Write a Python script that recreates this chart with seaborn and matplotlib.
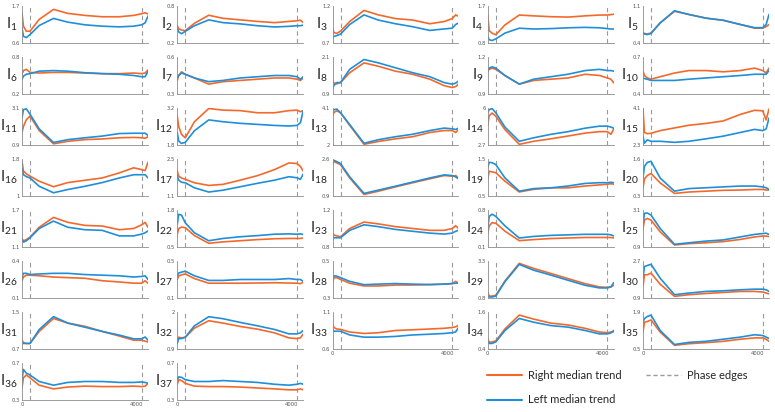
import numpy as np
import pandas as pd
import matplotlib
matplotlib.use("Agg")
import matplotlib.pyplot as plt
import seaborn as sns

# sample steps shared by every panel
STEPS = [0, 50, 150, 280, 600, 1100, 1600, 2200, 2800, 3400, 3900, 4180, 4300, 4400]
PHASE_EDGES = [280, 4180]

# y-axis limits per panel (I1..I37)
Y_LO = [0.6, 0.2, 0.7, 0.8, 0.4, 0.2, 0.3, 0.9, 0.9, 0.4,
        0.9, 1.8, 2, 2.7, 2.3, 1, 1.1, 0.9, 0.5, 0.3,
        1.1, 0.5, 0.8, 0.1, 0.9, 0.1, 0.1, 0.3, 0.8, 0.9,
        0.7, 0.9, 0.6, 0.4, 0.5, 0.3, 0.3]
Y_HI = [1.7, 0.8, 1.2, 1.7, 1.1, 0.8, 0.6, 2.1, 1.2, 0.7,
        3.1, 3.2, 4.1, 6, 4.1, 1.8, 2.5, 2.6, 1.5, 1.6,
        1.7, 1.8, 1.2, 0.8, 3.1, 0.4, 0.5, 0.5, 3.3, 2.7,
        1.5, 2, 1.1, 1.6, 1.9, 0.7, 0.7]

I1_RIGHT = [1.50, 1.10, 0.95, 0.95, 1.30, 1.60, 1.48, 1.42, 1.38, 1.38, 1.42, 1.47, 1.50, 1.46]
I1_LEFT = [1.05, 0.80, 0.76, 0.85, 1.12, 1.33, 1.22, 1.14, 1.10, 1.08, 1.10, 1.14, 1.20, 1.40]
I2_RIGHT = [0.48, 0.43, 0.41, 0.40, 0.52, 0.65, 0.60, 0.575, 0.55, 0.53, 0.55, 0.56, 0.57, 0.53]
I2_LEFT = [0.44, 0.38, 0.35, 0.39, 0.48, 0.575, 0.53, 0.51, 0.48, 0.46, 0.47, 0.48, 0.48, 0.49]
I3_RIGHT = [0.90, 0.84, 0.83, 0.86, 0.99, 1.14, 1.08, 1.03, 1.01, 0.96, 0.99, 1.03, 1.08, 1.06]
I3_LEFT = [0.78, 0.79, 0.80, 0.82, 0.95, 1.08, 1.01, 0.96, 0.92, 0.87, 0.89, 0.90, 0.95, 0.97]
I4_RIGHT = [1.49, 1.10, 1.04, 1.00, 1.24, 1.48, 1.46, 1.44, 1.43, 1.46, 1.48, 1.48, 1.49, 1.50]
I4_LEFT = [0.96, 0.88, 0.86, 0.90, 1.04, 1.16, 1.14, 1.15, 1.17, 1.18, 1.17, 1.15, 1.14, 1.14]
I5_RIGHT = [0.59, 0.58, 0.57, 0.59, 0.78, 1.00, 0.94, 0.87, 0.83, 0.75, 0.68, 0.68, 0.71, 0.75]
I5_LEFT = [0.59, 0.57, 0.56, 0.58, 0.78, 1.01, 0.94, 0.87, 0.83, 0.75, 0.69, 0.69, 0.75, 0.94]
I6_RIGHT = [0.52, 0.58, 0.60, 0.55, 0.54, 0.55, 0.55, 0.54, 0.53, 0.53, 0.54, 0.53, 0.54, 0.59]
I6_LEFT = [0.44, 0.49, 0.52, 0.53, 0.57, 0.58, 0.57, 0.545, 0.53, 0.52, 0.50, 0.48, 0.48, 0.57]
I7_RIGHT = [0.41, 0.45, 0.48, 0.46, 0.43, 0.38, 0.40, 0.41, 0.42, 0.43, 0.43, 0.42, 0.41, 0.43]
I7_LEFT = [0.43, 0.45, 0.47, 0.46, 0.43, 0.40, 0.41, 0.43, 0.44, 0.45, 0.45, 0.44, 0.42, 0.44]
I8_RIGHT = [1.32, 1.26, 1.23, 1.27, 1.59, 1.91, 1.80, 1.64, 1.54, 1.38, 1.17, 1.11, 1.14, 1.22]
I8_LEFT = [1.06, 1.18, 1.27, 1.27, 1.70, 2.02, 1.91, 1.75, 1.59, 1.46, 1.27, 1.22, 1.25, 1.32]
I9_RIGHT = [1.086, 1.10, 1.11, 1.10, 1.05, 0.98, 1.01, 1.02, 1.03, 1.06, 1.05, 1.03, 1.02, 0.99]
I9_LEFT = [1.09, 1.11, 1.12, 1.11, 1.05, 0.98, 1.02, 1.04, 1.06, 1.09, 1.10, 1.09, 1.09, 1.085]
I10_RIGHT = [0.586, 0.55, 0.53, 0.52, 0.54, 0.57, 0.59, 0.59, 0.58, 0.59, 0.61, 0.59, 0.57, 0.61]
I10_LEFT = [0.53, 0.525, 0.52, 0.51, 0.51, 0.51, 0.52, 0.53, 0.54, 0.55, 0.56, 0.56, 0.56, 0.59]
I11_RIGHT = [1.65, 2.0, 2.4, 2.62, 1.76, 0.97, 1.12, 1.22, 1.26, 1.33, 1.35, 1.33, 1.30, 1.40]
I11_LEFT = [2.5, 3.0, 3.05, 2.73, 1.86, 1.05, 1.22, 1.33, 1.43, 1.58, 1.60, 1.60, 1.60, 1.47]
I12_RIGHT = [2.89, 2.5, 2.2, 2.07, 2.68, 3.18, 3.12, 3.10, 3.02, 3.02, 3.10, 3.12, 3.06, 3.10]
I12_LEFT = [2.28, 1.95, 1.86, 1.90, 2.34, 2.75, 2.68, 2.62, 2.58, 2.54, 2.52, 2.54, 2.64, 3.10]
I13_RIGHT = [3.63, 3.85, 3.94, 3.83, 3.12, 2.04, 2.20, 2.35, 2.47, 2.71, 2.82, 2.82, 2.71, 2.88]
I13_LEFT = [3.94, 4.0, 4.04, 3.83, 3.16, 2.10, 2.30, 2.47, 2.61, 2.82, 2.96, 2.92, 2.88, 2.96]
I14_RIGHT = [4.47, 5.3, 5.55, 5.27, 4.07, 2.76, 3.03, 3.25, 3.50, 3.76, 3.89, 3.89, 3.65, 4.14]
I14_LEFT = [5.58, 5.85, 5.95, 5.58, 4.30, 3.03, 3.34, 3.65, 3.89, 4.20, 4.38, 4.38, 4.30, 4.20]
I15_RIGHT = [4.05, 2.91, 2.85, 2.87, 3.00, 3.13, 3.26, 3.35, 3.47, 3.79, 3.99, 3.96, 3.52, 4.05]
I15_LEFT = [2.73, 2.39, 2.55, 2.48, 2.48, 2.43, 2.48, 2.60, 2.73, 2.91, 3.06, 3.00, 3.08, 3.61]
I16_RIGHT = [1.75, 1.54, 1.48, 1.43, 1.32, 1.20, 1.29, 1.34, 1.39, 1.50, 1.61, 1.57, 1.55, 1.73]
I16_LEFT = [1.61, 1.46, 1.42, 1.39, 1.21, 1.07, 1.14, 1.21, 1.29, 1.39, 1.46, 1.46, 1.46, 1.39]
I17_RIGHT = [2.04, 1.85, 1.78, 1.73, 1.60, 1.50, 1.54, 1.70, 1.87, 2.10, 2.35, 2.33, 2.22, 2.04]
I17_LEFT = [1.86, 1.70, 1.62, 1.60, 1.41, 1.25, 1.32, 1.45, 1.58, 1.70, 1.83, 1.79, 1.73, 1.93]
I18_RIGHT = [2.34, 2.49, 2.42, 2.34, 1.73, 0.97, 1.12, 1.32, 1.51, 1.69, 1.84, 1.81, 1.84, 1.73]
I18_LEFT = [2.45, 2.54, 2.48, 2.39, 1.78, 1.02, 1.17, 1.35, 1.54, 1.73, 1.87, 1.84, 1.78, 1.69]
I19_RIGHT = [0.95, 1.17, 1.15, 1.13, 0.90, 0.61, 0.68, 0.72, 0.72, 0.77, 0.80, 0.82, 0.83, 0.82]
I19_LEFT = [1.26, 1.41, 1.40, 1.35, 0.99, 0.63, 0.70, 0.72, 0.77, 0.84, 0.86, 0.86, 0.87, 0.86]
I20_RIGHT = [0.59, 0.90, 1.02, 1.09, 0.76, 0.39, 0.44, 0.47, 0.50, 0.51, 0.53, 0.53, 0.51, 0.51]
I20_LEFT = [0.93, 1.34, 1.48, 1.52, 0.93, 0.47, 0.56, 0.59, 0.62, 0.65, 0.65, 0.62, 0.59, 0.53]
I21_RIGHT = [1.22, 1.20, 1.22, 1.26, 1.42, 1.58, 1.50, 1.45, 1.44, 1.38, 1.40, 1.46, 1.50, 1.42]
I21_LEFT = [1.24, 1.18, 1.20, 1.25, 1.40, 1.52, 1.42, 1.38, 1.37, 1.28, 1.28, 1.31, 1.33, 1.36]
I22_RIGHT = [0.95, 1.15, 1.20, 1.18, 0.90, 0.63, 0.68, 0.72, 0.76, 0.79, 0.80, 0.80, 0.80, 0.82]
I22_LEFT = [1.30, 1.65, 1.62, 1.35, 1.00, 0.72, 0.80, 0.86, 0.90, 0.95, 0.96, 0.95, 0.96, 0.94]
I23_RIGHT = [0.95, 0.93, 0.92, 0.91, 1.00, 1.07, 1.05, 1.02, 1.00, 0.98, 0.98, 1.00, 1.03, 1.00]
I23_LEFT = [0.92, 0.90, 0.90, 0.90, 0.98, 1.04, 1.02, 0.99, 0.97, 0.95, 0.94, 0.95, 0.97, 0.98]
I24_RIGHT = [0.35, 0.50, 0.56, 0.55, 0.40, 0.22, 0.24, 0.26, 0.27, 0.28, 0.28, 0.28, 0.28, 0.27]
I24_LEFT = [0.45, 0.68, 0.72, 0.68, 0.50, 0.27, 0.30, 0.32, 0.33, 0.34, 0.34, 0.34, 0.33, 0.31]
I25_RIGHT = [2.0, 2.5, 2.6, 2.5, 1.8, 1.02, 1.10, 1.15, 1.22, 1.35, 1.50, 1.55, 1.55, 1.52]
I25_LEFT = [2.2, 2.9, 2.92, 2.8, 2.0, 1.06, 1.15, 1.25, 1.32, 1.50, 1.65, 1.70, 1.72, 1.65]
I26_RIGHT = [0.24, 0.27, 0.285, 0.285, 0.28, 0.27, 0.265, 0.26, 0.24, 0.23, 0.22, 0.22, 0.24, 0.22]
I26_LEFT = [0.27, 0.30, 0.30, 0.29, 0.295, 0.30, 0.30, 0.29, 0.285, 0.28, 0.27, 0.275, 0.28, 0.25]
I27_RIGHT = [0.30, 0.34, 0.35, 0.36, 0.31, 0.26, 0.26, 0.26, 0.262, 0.265, 0.262, 0.26, 0.255, 0.27]
I27_LEFT = [0.34, 0.37, 0.38, 0.39, 0.34, 0.29, 0.29, 0.30, 0.30, 0.30, 0.31, 0.30, 0.30, 0.28]
I28_RIGHT = [0.38, 0.41, 0.41, 0.40, 0.38, 0.365, 0.365, 0.37, 0.37, 0.372, 0.375, 0.378, 0.39, 0.38]
I28_LEFT = [0.40, 0.42, 0.418, 0.41, 0.39, 0.372, 0.375, 0.378, 0.375, 0.373, 0.375, 0.378, 0.38, 0.38]
I29_RIGHT = [1.20, 0.93, 0.93, 0.98, 1.95, 3.14, 2.80, 2.46, 2.11, 1.77, 1.55, 1.52, 1.55, 1.66]
I29_LEFT = [0.98, 0.87, 0.87, 0.93, 1.90, 3.07, 2.68, 2.35, 2.00, 1.66, 1.48, 1.48, 1.55, 1.84]
I30_RIGHT = [1.46, 2.03, 2.03, 2.11, 1.57, 0.98, 1.06, 1.12, 1.17, 1.22, 1.22, 1.19, 1.14, 1.10]
I30_LEFT = [1.86, 2.43, 2.48, 2.54, 1.86, 1.06, 1.14, 1.22, 1.25, 1.30, 1.33, 1.33, 1.30, 1.22]
I31_RIGHT = [0.89, 0.84, 0.82, 0.82, 1.08, 1.36, 1.26, 1.19, 1.08, 0.98, 0.89, 0.89, 0.87, 0.85]
I31_LEFT = [0.82, 0.82, 0.82, 0.82, 1.12, 1.40, 1.26, 1.17, 1.08, 1.00, 0.92, 0.92, 0.96, 0.89]
I32_RIGHT = [1.16, 1.25, 1.23, 1.25, 1.52, 1.74, 1.67, 1.57, 1.49, 1.38, 1.23, 1.21, 1.23, 1.35]
I32_LEFT = [1.06, 1.21, 1.21, 1.25, 1.59, 1.86, 1.80, 1.69, 1.59, 1.48, 1.35, 1.35, 1.38, 1.45]
I33_RIGHT = [0.94, 0.89, 0.87, 0.865, 0.83, 0.81, 0.82, 0.85, 0.86, 0.87, 0.88, 0.89, 0.90, 0.92]
I33_LEFT = [0.87, 0.84, 0.84, 0.84, 0.79, 0.76, 0.76, 0.77, 0.79, 0.80, 0.81, 0.82, 0.83, 0.89]
I34_RIGHT = [0.74, 0.61, 0.63, 0.66, 1.05, 1.50, 1.37, 1.24, 1.18, 1.07, 0.95, 0.93, 0.95, 0.96]
I34_LEFT = [0.69, 0.58, 0.58, 0.63, 1.00, 1.39, 1.27, 1.16, 1.11, 1.00, 0.89, 0.89, 0.92, 1.00]
I35_RIGHT = [1.16, 1.51, 1.54, 1.60, 1.14, 0.64, 0.70, 0.74, 0.79, 0.87, 0.92, 0.92, 0.87, 0.79]
I35_LEFT = [1.51, 1.65, 1.73, 1.78, 1.20, 0.67, 0.75, 0.79, 0.87, 0.95, 1.04, 1.01, 0.95, 0.90]
I36_RIGHT = [0.43, 0.54, 0.57, 0.54, 0.46, 0.42, 0.44, 0.45, 0.445, 0.445, 0.45, 0.445, 0.45, 0.48]
I36_LEFT = [0.52, 0.63, 0.59, 0.57, 0.50, 0.46, 0.49, 0.50, 0.50, 0.49, 0.49, 0.495, 0.49, 0.48]
I37_RIGHT = [0.47, 0.52, 0.51, 0.48, 0.45, 0.445, 0.445, 0.44, 0.43, 0.42, 0.41, 0.41, 0.42, 0.41]
I37_LEFT = [0.52, 0.55, 0.545, 0.52, 0.50, 0.50, 0.51, 0.50, 0.49, 0.47, 0.46, 0.47, 0.48, 0.47]

RIGHT_COLOR = "#F4692B"
LEFT_COLOR = "#1F8FD9"
EDGE_COLOR = "#9A9A9A"
AXIS_COLOR = "#8C8C8C"

N_PANELS = 37
N_COLS = 5


def build_frame():
    g = globals()
    rows = []
    for k in range(1, N_PANELS + 1):
        for side, key in (("Right", f"I{k}_RIGHT"), ("Left", f"I{k}_LEFT")):
            for step, val in zip(STEPS, g[key]):
                rows.append({"panel": k, "side": side, "step": step, "value": val})
    return pd.DataFrame(rows)


def main():
    sns.set_theme(style="white")
    plt.rcParams["font.family"] = ["DejaVu Sans"]
    plt.rcParams["mathtext.default"] = "regular"

    df = build_frame()
    fig = plt.figure(figsize=(7.75, 4.12), dpi=100)
    W, H = 775.0, 412.0

    palette = {"Right": RIGHT_COLOR, "Left": LEFT_COLOR}

    for k in range(1, N_PANELS + 1):
        row, col = divmod(k - 1, N_COLS)
        left = 22 + 155.25 * col
        top = 6 + 51 * row
        ax = fig.add_axes([left / W, 1 - (top + 37) / H, 126 / W, 37 / H])

        sns.lineplot(
            data=df[df["panel"] == k],
            x="step",
            y="value",
            hue="side",
            hue_order=["Right", "Left"],
            palette=palette,
            linewidth=1.2,
            legend=False,
            ax=ax,
        )
        for edge in PHASE_EDGES:
            ax.axvline(edge, color=EDGE_COLOR, linestyle=(0, (4, 3)), linewidth=0.8, zorder=0)

        lo, hi = Y_LO[k - 1], Y_HI[k - 1]
        ax.set_xlim(STEPS[0], STEPS[-1])
        ax.set_ylim(lo, hi)
        ax.set_yticks([lo, hi])
        ax.set_yticklabels([f"{lo:g}", f"{hi:g}"])
        ax.set_xticks([0, 4000])
        bottom_panel = k + N_COLS > N_PANELS
        if bottom_panel:
            ax.set_xticklabels(["0", "4000"])
        else:
            ax.set_xticklabels([])
        ax.set_xlabel("")
        ax.set_ylabel("")

        for side in ("top", "right"):
            ax.spines[side].set_visible(False)
        for side in ("left", "bottom"):
            ax.spines[side].set_color(AXIS_COLOR)
            ax.spines[side].set_linewidth(0.6)
        ax.tick_params(axis="both", direction="in", length=2, width=0.5,
                       color=AXIS_COLOR, labelsize=3.8, labelcolor="#555555", pad=1.5)

        ax.text(-0.035, 0.5, f"I$_{{{k}}}$", transform=ax.transAxes,
                ha="right", va="center", fontsize=10.5, color="#222222",
                family=["Lato", "DejaVu Sans"])

    handles = [
        plt.Line2D([0], [0], color=RIGHT_COLOR, lw=1.5),
        plt.Line2D([0], [0], color=LEFT_COLOR, lw=1.5),
        plt.Line2D([0], [0], color=EDGE_COLOR, lw=1.0, linestyle=(0, (3, 2))),
    ]
    labels = ["Right median trend", "Left median trend", "Phase edges"]
    fig.legend(
        handles,
        labels,
        loc="center",
        bbox_to_anchor=(617 / W, 1 - 387.5 / H),
        ncol=2,
        frameon=False,
        prop={"family": ["Lato", "DejaVu Sans"], "size": 8},
        handlelength=3.2,
        labelspacing=1.25,
        columnspacing=2.2,
        handletextpad=0.5,
    )

    fig.savefig("out.png", dpi=100)
    plt.close(fig)


if __name__ == "__main__":
    main()
